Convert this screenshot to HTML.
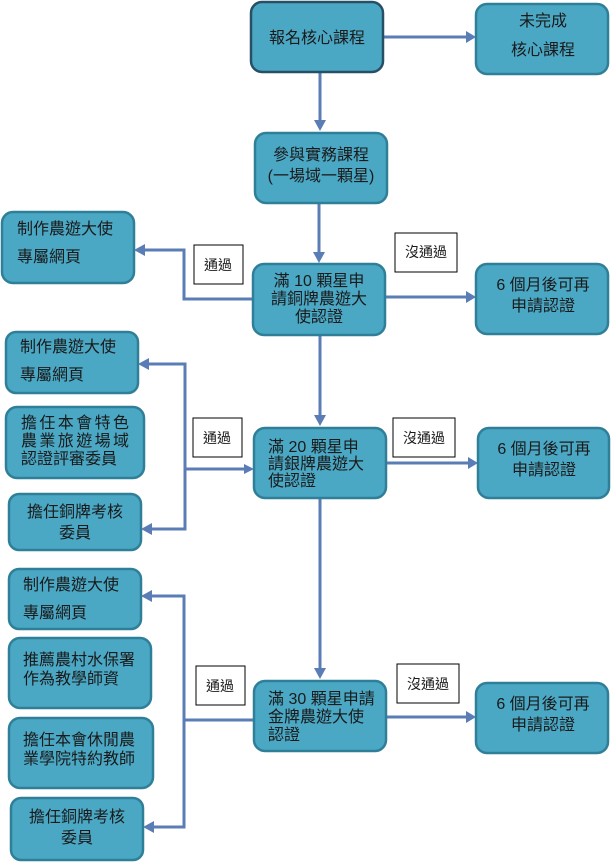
<!DOCTYPE html>
<html><head><meta charset="utf-8"><style>
html,body{margin:0;padding:0;background:#fff}
svg{display:block}
text{font-family:"Liberation Sans","Noto Sans CJK TC",sans-serif;font-size:16px;fill:#1a1a1a}
.s{font-size:14px}
.b{fill:#4aa8c5;stroke:#2f7f98;stroke-width:2.5}
.l{fill:none;stroke:#5b7db6;stroke-width:3}
.h{fill:#5b7db6}
.w{fill:#fff;stroke:#000;stroke-width:1}
</style></head><body>
<svg width="611" height="862" viewBox="0 0 611 862" xmlns="http://www.w3.org/2000/svg">
<path class="l" d="M383 37 H466"/><path class="h" d="M476 37 l-10 -6 v12z"/>
<path class="l" d="M320 72 V122"/><path class="h" d="M320 131 l-6 -11 h12z"/>
<path class="l" d="M319 203 V254"/><path class="h" d="M319 263 l-6 -11 h12z"/>
<path class="l" d="M253 299 H184 V250 H144"/><path class="h" d="M134 250 l11 -6 v12z"/>
<path class="l" d="M385 297 H466"/><path class="h" d="M476 297 l-10 -6 v12z"/>
<path class="l" d="M320 335 V417"/><path class="h" d="M320 426 l-6 -11 h12z"/>
<path class="l" d="M148 364 H185 V529 H151"/><path class="h" d="M138 364 l11 -6 v12z"/><path class="h" d="M141 529 l11 -6 v12z"/>
<path class="l" d="M185 469 H244"/><path class="h" d="M254 469 l-10 -5 v10z"/>
<path class="l" d="M386 463 H468"/><path class="h" d="M478 463 l-10 -6 v12z"/>
<path class="l" d="M320 498 V669"/><path class="h" d="M320 679 l-6 -11 h12z"/>
<path class="l" d="M254 720 H184 M151 596 H184 V827 H153"/><path class="h" d="M141 596 l11 -6 v12z"/><path class="h" d="M143 827 l11 -6 v12z"/>
<path class="l" d="M386 717 H466"/><path class="h" d="M476 717 l-10 -6 v12z"/>
<rect x="251" y="2" width="132" height="70" rx="11" class="b" style="stroke:#274f66"/>
<text x="317" y="43" text-anchor="middle">報名核心課程</text>
<rect x="476" y="4" width="132" height="70" rx="11" class="b"/>
<text x="543" y="26" text-anchor="middle">未完成</text><text x="543" y="55" text-anchor="middle">核心課程</text>
<rect x="255" y="133" width="132" height="70" rx="11" class="b"/>
<text x="321" y="160" text-anchor="middle">參與實務課程</text><text x="321" y="181" text-anchor="middle">(一場域一顆星)</text>
<rect x="2" y="212" width="132" height="71" rx="11" class="b"/>
<text x="17" y="234">制作農遊大使</text><text x="17" y="262">專屬網頁</text>
<rect x="194" y="245" width="49" height="39" class="w"/><text x="218" y="270" text-anchor="middle" class="s">通過</text>
<rect x="395" y="233" width="62" height="39" class="w"/><text x="426" y="257" text-anchor="middle" class="s">沒通過</text>
<rect x="253" y="264" width="132" height="71" rx="11" class="b"/>
<text x="319" y="286" text-anchor="middle">滿 10 顆星申</text><text x="319" y="304" text-anchor="middle">請銅牌農遊大</text><text x="319" y="322" text-anchor="middle">使認證</text>
<rect x="476" y="264" width="132" height="70" rx="11" class="b"/>
<text x="543" y="290" text-anchor="middle">6 個月後可再</text><text x="543" y="311" text-anchor="middle">申請認證</text>
<rect x="6" y="332" width="132" height="61" rx="10" class="b"/>
<text x="20" y="352">制作農遊大使</text><text x="20" y="380">專屬網頁</text>
<rect x="6" y="407" width="138" height="71" rx="11" class="b"/>
<text x="21" y="428" textLength="108">擔任本會特色</text><text x="21" y="446" textLength="108">農業旅遊場域</text><text x="21" y="464">認證評審委員</text>
<rect x="9" y="494" width="132" height="56" rx="10" class="b"/>
<text x="75" y="517" text-anchor="middle">擔任銅牌考核</text><text x="75" y="538" text-anchor="middle">委員</text>
<rect x="193" y="418" width="49" height="39" class="w"/><text x="217" y="443" text-anchor="middle" class="s">通過</text>
<rect x="393" y="418" width="62" height="39" class="w"/><text x="424" y="443" text-anchor="middle" class="s">沒通過</text>
<rect x="254" y="428" width="132" height="70" rx="11" class="b"/>
<text x="268" y="452">滿 20 顆星申</text><text x="268" y="469">請銀牌農遊大</text><text x="268" y="486">使認證</text>
<rect x="478" y="428" width="131" height="70" rx="11" class="b"/>
<text x="544" y="454" text-anchor="middle">6 個月後可再</text><text x="544" y="475" text-anchor="middle">申請認證</text>
<rect x="9" y="569" width="132" height="60" rx="10" class="b"/>
<text x="23" y="590">制作農遊大使</text><text x="23" y="618">專屬網頁</text>
<rect x="9" y="638" width="142" height="70" rx="11" class="b"/>
<text x="23" y="665">推薦農村水保署</text><text x="23" y="684">作為教學師資</text>
<rect x="9" y="718" width="144" height="70" rx="11" class="b"/>
<text x="23" y="745">擔任本會休閒農</text><text x="23" y="764">業學院特約教師</text>
<rect x="11" y="798" width="132" height="62" rx="10" class="b"/>
<text x="77" y="822" text-anchor="middle">擔任銅牌考核</text><text x="77" y="843" text-anchor="middle">委員</text>
<rect x="196" y="666" width="49" height="39" class="w"/><text x="220" y="691" text-anchor="middle" class="s">通過</text>
<rect x="397" y="664" width="62" height="39" class="w"/><text x="428" y="689" text-anchor="middle" class="s">沒通過</text>
<rect x="254" y="681" width="132" height="70" rx="11" class="b"/>
<text x="268" y="704">滿 30 顆星申請</text><text x="268" y="722">金牌農遊大使</text><text x="268" y="740">認證</text>
<rect x="476" y="683" width="132" height="70" rx="11" class="b"/>
<text x="543" y="709" text-anchor="middle">6 個月後可再</text><text x="543" y="730" text-anchor="middle">申請認證</text>
</svg>
</body></html>
